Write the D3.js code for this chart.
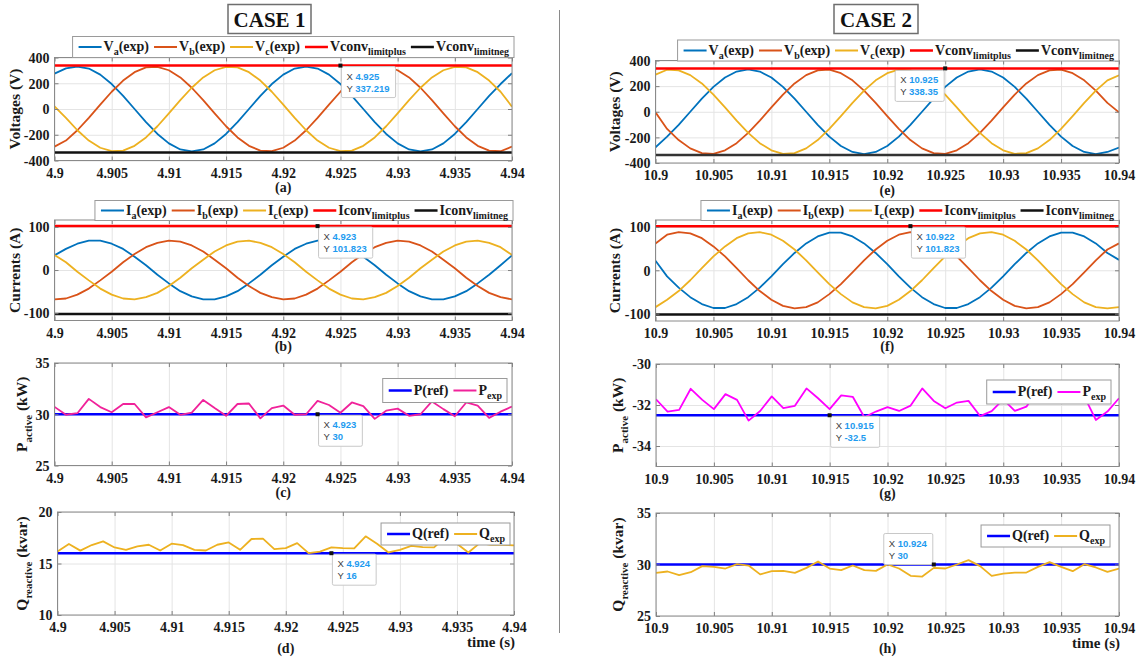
<!DOCTYPE html>
<html><head><meta charset="utf-8">
<script src="https://cdn.jsdelivr.net/npm/d3@7"></script>
<style>
body{margin:0;background:#fff}
svg{display:block}
svg text{font-family:"Liberation Serif","Times New Roman",Times,serif !important;font-weight:bold}
svg text.tip{font-family:"Liberation Sans",Arial,Helvetica,sans-serif !important;font-weight:normal}
</style>
</head><body>
<svg id="chart" width="1138" height="657"></svg>
<script>
// ---------------- DATA ----------------
const timeCase1 = [4.900,4.901,4.902,4.903,4.904,4.905,4.906,4.907,4.908,4.909,4.910,4.911,4.912,4.913,4.914,4.915,4.916,4.917,4.918,4.919,4.920,4.921,4.922,4.923,4.924,4.925,4.926,4.927,4.928,4.929,4.930,4.931,4.932,4.933,4.934,4.935,4.936,4.937,4.938,4.939,4.940];
const timeCase2 = [10.900,10.901,10.902,10.903,10.904,10.905,10.906,10.907,10.908,10.909,10.910,10.911,10.912,10.913,10.914,10.915,10.916,10.917,10.918,10.919,10.920,10.921,10.922,10.923,10.924,10.925,10.926,10.927,10.928,10.929,10.930,10.931,10.932,10.933,10.934,10.935,10.936,10.937,10.938,10.939,10.940];

const xTicks1 = [4.9,4.905,4.91,4.915,4.92,4.925,4.93,4.935,4.94];
const xTickLabels1 = ["4.9","4.905","4.91","4.915","4.92","4.925","4.93","4.935","4.94"];
const xTicks2 = [10.9,10.905,10.91,10.915,10.92,10.925,10.93,10.935,10.94];
const xTickLabels2 = ["10.9","10.905","10.91","10.915","10.92","10.925","10.93","10.935","10.94"];

const vTicks = [-400,-200,0,200,400];
const iTicks = [-100,0,100];
const p1Ticks = [25,30,35];
const p2Ticks = [-34,-32,-30];
const q1Ticks = [10,15,20];
const q2Ticks = [25,30,35];

// Case 1 voltages (V)
const va1 = [275,316,330,314,267,194,102,0,-102,-194,-267,-314,-330,-314,-267,-194,-102,0,102,194,267,314,330,314,267,194,102,0,-102,-194,-267,-314,-330,-314,-267,-194,-102,0,102,194,278];
const vb1 = [-292,-245,-165,-69,34,134,221,286,323,328,301,245,165,69,-34,-134,-221,-286,-323,-328,-301,-245,-165,-69,34,134,221,286,323,328,301,245,165,69,-34,-134,-221,-286,-323,-328,-292];
const vc1 = [20,-69,-165,-245,-301,-328,-323,-286,-221,-134,-34,69,165,245,301,328,323,286,221,134,34,-69,-165,-245,-301,-328,-323,-286,-221,-134,-34,69,165,245,301,328,323,286,221,134,18];
const vLimit1 = [337.219, -337.219];

// Case 2 voltages (V)
const va2 = [-278,-194,-102,0,102,194,267,314,330,314,267,194,102,0,-102,-194,-267,-314,-330,-314,-267,-194,-102,0,102,194,267,314,330,314,267,194,102,0,-102,-194,-267,-314,-330,-314,-280];
const vb2 = [-5,-134,-221,-286,-323,-328,-301,-245,-165,-69,34,134,221,286,323,328,301,245,165,69,-34,-134,-221,-286,-323,-328,-301,-245,-165,-69,34,134,221,286,323,328,301,245,165,69,-5];
const vc2 = [290,328,323,286,221,134,34,-69,-165,-245,-301,-328,-323,-286,-221,-134,-34,69,165,245,301,328,323,286,221,134,34,-69,-165,-245,-301,-328,-323,-286,-221,-134,-34,69,165,245,285];
const vLimit2 = [338.35, -338.35];

// Case 1 currents (A)
const ia1 = [34,49,61,68,68,61,49,31,11,-11,-31,-49,-61,-68,-68,-61,-49,-31,-11,11,31,49,61,68,68,61,49,31,11,-11,-31,-49,-61,-68,-68,-61,-49,-31,-11,11,34];
const ib1 = [-68,-66,-57,-43,-24,-4,18,37,53,63,68,66,57,43,24,4,-18,-37,-53,-63,-68,-66,-57,-43,-24,-4,18,37,53,63,68,66,57,43,24,4,-18,-37,-53,-63,-68];
const ic1 = [35,18,-4,-24,-43,-57,-66,-68,-63,-53,-37,-18,4,24,43,57,66,68,63,53,37,18,-4,-24,-43,-57,-66,-68,-63,-53,-37,-18,4,24,43,57,66,68,63,53,35];
const iLimit = [101.823, -101.823];

// Case 2 currents (A)
const ia2 = [22,-14,-40,-62,-78,-87,-87,-78,-62,-40,-14,14,40,62,78,87,87,78,62,40,14,-14,-40,-62,-78,-87,-87,-78,-62,-40,-14,14,40,62,78,87,87,78,62,40,24];
const ib2 = [62,82,88,85,74,55,32,5,-23,-48,-68,-82,-88,-85,-74,-55,-32,-5,23,48,68,82,88,85,74,55,32,5,-23,-48,-68,-82,-88,-85,-74,-55,-32,-5,23,48,62];
const ic2 = [-85,-68,-48,-23,5,32,55,74,85,88,82,68,48,23,-5,-32,-55,-74,-85,-88,-82,-68,-48,-23,5,32,55,74,85,88,82,68,48,23,-5,-32,-55,-74,-85,-88,-85];

// Active power (kW)
const pRef1 = 30;
const pExp1 = [30.72,29.95,30.1,31.5,30.7,30.2,31.0,31.0,29.7,30.2,30.7,29.95,30.15,31.4,30.6,29.85,31.0,31.05,29.6,30.6,30.85,29.95,30.0,31.3,30.9,30.15,31.15,30.8,29.55,30.35,30.55,29.85,30.0,31.25,30.5,29.8,31.15,30.85,29.65,30.25,30.75];
const pRef2 = -32.5;
const pExp2 = [-31.72,-32.32,-32.24,-31.21,-31.75,-32.2,-31.47,-31.75,-32.76,-32.29,-31.58,-32.15,-32.04,-31.19,-31.67,-32.2,-31.53,-31.6,-32.6,-32.32,-32.1,-32.29,-32.03,-31.19,-31.8,-32.16,-31.88,-31.8,-32.54,-32.3,-31.72,-32.29,-32.08,-31.29,-31.42,-31.9,-31.5,-31.58,-32.73,-32.32,-31.67];

// Reactive power (kvar)
const qRef1 = 16;
const qExp1 = [16.16,16.9,16.25,16.79,17.15,16.56,16.33,16.66,16.82,16.26,16.92,16.79,16.33,16.26,16.82,17.05,16.33,17.38,17.41,16.39,16.49,16.98,16.0,16.16,16.56,16.49,16.46,17.64,16.92,16.07,16.33,16.72,16.59,16.56,17.57,16.92,16.07,16.98,16.82,16.82,16.75];
const qRef2 = 30;
const qExp2 = [29.19,29.32,28.97,29.25,29.84,29.77,29.61,30.03,29.9,29.04,29.35,29.38,29.19,29.67,30.29,29.61,29.45,29.9,29.45,29.38,30.0,29.61,28.9,28.83,29.67,29.61,30.0,30.42,29.84,28.9,29.12,29.22,29.22,29.77,30.23,29.77,29.35,30.03,29.71,29.28,29.61];

// ---------------- STYLE ----------------
const C_A = '#0072BD', C_B = '#D95319', C_C = '#EDB120';
const C_RED = '#FF0000', C_BLK = '#111111', C_REF = '#0000FF';
const C_PINK1 = '#F0229A', C_MAG = '#FF00FF';
const TXT = '#1a1a1a';

const svg = d3.select('#chart');
let clipId = 0;

function drawPanel(o) {
  const x = d3.scaleLinear().domain(o.xDomain).range([o.left, o.right]);
  const y = d3.scaleLinear().domain(o.yDomain).range([o.bottom, o.top]);
  const g = svg.append('g');
  const w = o.right - o.left, h = o.bottom - o.top;

  g.append('rect').attr('x', o.left).attr('y', o.top).attr('width', w).attr('height', h).attr('fill', '#fff');

  // grid
  const gxg = g.append('g').attr('transform', `translate(0,${o.bottom})`)
    .call(d3.axisBottom(x).tickValues(o.xTicks).tickSize(-h).tickFormat(''));
  gxg.select('.domain').remove();
  gxg.selectAll('line').attr('stroke', '#e4e4e4').attr('stroke-width', 1);
  const gyg = g.append('g').attr('transform', `translate(${o.left},0)`)
    .call(d3.axisLeft(y).tickValues(o.yTicks).tickSize(-w).tickFormat(''));
  gyg.select('.domain').remove();
  gyg.selectAll('line').attr('stroke', '#e4e4e4').attr('stroke-width', 1);

  // clip
  const cid = 'clip' + (clipId++);
  g.append('clipPath').attr('id', cid).append('rect')
    .attr('x', o.left).attr('y', o.top).attr('width', w).attr('height', h);
  const plot = g.append('g').attr('clip-path', `url(#${cid})`);

  o.series.forEach(s => {
    const line = d3.line().x((d, i) => x(s.x[i])).y(d => y(d));
    plot.append('path').datum(s.y).attr('d', line)
      .attr('fill', 'none').attr('stroke', s.color).attr('stroke-width', s.width || 1.8)
      .attr('stroke-linejoin', 'round');
  });

  // axes (ticks inward)
  const ax = g.append('g').attr('transform', `translate(0,${o.bottom})`)
    .call(d3.axisBottom(x).tickValues(o.xTicks).tickSizeInner(-4).tickSizeOuter(0)
      .tickFormat((d, i) => o.xLabels[i]));
  ax.select('.domain').remove();
  ax.attr('font-family', null).attr('font-size', null);
  ax.selectAll('line').attr('stroke', '#7f7f7f');
  ax.selectAll('text').attr('y', 17).attr('dy', null)
    .style('font-size', '14px').attr('fill', TXT);

  const at = g.append('g').attr('transform', `translate(0,${o.top})`)
    .call(d3.axisTop(x).tickValues(o.xTicks).tickSizeInner(-4).tickSizeOuter(0).tickFormat(''));
  at.select('.domain').remove();
  at.selectAll('line').attr('stroke', '#7f7f7f');

  const ay = g.append('g').attr('transform', `translate(${o.left},0)`)
    .call(d3.axisLeft(y).tickValues(o.yTicks).tickSizeInner(-4).tickSizeOuter(0).tickPadding(5)
      .tickFormat(d => String(d)));
  ay.select('.domain').remove();
  ay.attr('font-family', null).attr('font-size', null);
  ay.selectAll('line').attr('stroke', '#7f7f7f');
  ay.selectAll('text').attr('x', -5).attr('dy', '0.34em')
    .style('font-size', '14px').attr('fill', TXT);

  const ar = g.append('g').attr('transform', `translate(${o.right},0)`)
    .call(d3.axisRight(y).tickValues(o.yTicks).tickSizeInner(-4).tickSizeOuter(0).tickFormat(''));
  ar.select('.domain').remove();
  ar.selectAll('line').attr('stroke', '#7f7f7f');

  g.append('rect').attr('x', o.left).attr('y', o.top).attr('width', w).attr('height', h)
    .attr('fill', 'none').attr('stroke', '#8a8a8a').attr('stroke-width', 1);

  // y label
  const yl = g.append('text')
    .attr('transform', `translate(${o.ylabelX},${(o.top + o.bottom) / 2}) rotate(-90)`)
    .attr('text-anchor', 'middle')
    .style('font-size', '15.5px').attr('fill', TXT);
  yl.append('tspan').text(o.ylabel[0]);
  if (o.ylabel[1]) {
    yl.append('tspan').attr('dy', 5).style('font-size', '11px').text(o.ylabel[1]);
    yl.append('tspan').attr('dy', -5).text(o.ylabel[2]);
  }

  // panel letter
  g.append('text').attr('x', (o.left + o.right) / 2).attr('y', o.letterY).attr('text-anchor', 'middle')
    .style('font-size', '14px').attr('fill', TXT)
    .text(o.letter);

  if (o.timeLabel) {
    g.append('text').attr('x', o.right + 1).attr('y', o.bottom + 32).attr('text-anchor', 'end')
      .style('font-size', '15px').attr('fill', TXT)
      .text('time (s)');
  }

  if (o.legend) drawLegend(g, o.legend);
  if (o.tip) drawTip(g, x(o.tip.x), y(o.tip.y), o.tip.xs, o.tip.ys, o.tip.place);
}

function drawLegend(g, L) {
  const lg = g.append('g');
  const box = lg.append('rect').attr('fill', '#fff').attr('stroke', '#9a9a9a').attr('stroke-width', 1);
  const pad = 6, lineLen = 23, gap = 2, itemGap = 5;
  let cx = 0;
  const cy = L.h / 2;
  L.items.forEach((it, i) => {
    const ig = lg.append('g');
    ig.append('line').attr('x1', cx + pad).attr('x2', cx + pad + lineLen).attr('y1', cy).attr('y2', cy)
      .attr('stroke', it.color).attr('stroke-width', it.width || 2);
    const t = ig.append('text').attr('x', cx + pad + lineLen + gap).attr('y', cy + 4)
      .style('font-size', '14px').attr('fill', TXT);
    t.append('tspan').text(it.text);
    if (it.sub) {
      t.append('tspan').attr('dy', 4).style('font-size', '10px').text(it.sub);
      if (it.after) t.append('tspan').attr('dy', -4).text(it.after);
    }
    const tw = t.node().getComputedTextLength();
    cx += lineLen + gap + tw + (i < L.items.length - 1 ? itemGap : 0);
  });
  const total = pad + cx + 5;
  const left = L.right - total;
  lg.attr('transform', `translate(${left},${L.top})`);
  box.attr('x', 0).attr('y', 0).attr('width', total).attr('height', L.h);
}

function drawTip(g, px, py, xs, ys, place) {
  const tg = g.append('g');
  const rect = tg.append('rect').attr('fill', '#fff').attr('stroke', '#c8c8c8').attr('stroke-width', 1).attr('rx', 1.5);
  const mk = (yy, lab, val) => {
    const t = tg.append('text').attr('class', 'tip').attr('y', yy).style('font-size', '9.5px');
    t.append('tspan').attr('fill', '#404040').text(lab + ' ');
    t.append('tspan').attr('fill', '#1E9BF0').style('font-weight', 'bold').text(val);
    return t;
  };
  const t1 = mk(13, 'X', xs), t2 = mk(25, 'Y', ys);
  const tw = Math.max(t1.node().getComputedTextLength(), t2.node().getComputedTextLength());
  const bw = tw + 11, bh = 31;
  t1.attr('x', 5); t2.attr('x', 5);
  rect.attr('x', 0).attr('y', 0).attr('width', bw).attr('height', bh);
  let ox = px + 1, oy = py + 1;
  if (place === 'bl') { ox = px - bw - 1; oy = py + 2; }
  if (place === 'tl') { ox = px - bw - 1; oy = py - bh; }
  tg.attr('transform', `translate(${ox},${oy})`);
  g.append('rect').attr('x', px - 2).attr('y', py - 2).attr('width', 4).attr('height', 4).attr('fill', '#111');
}

// ---------------- LAYOUT ----------------
const L1 = 54.5, R1 = 512, L2 = 655.5, R2 = 1119;

const vLegend = (pre, sym) => [
  {text: sym, sub: 'a', after: '(exp)', color: C_A},
  {text: sym, sub: 'b', after: '(exp)', color: C_B},
  {text: sym, sub: 'c', after: '(exp)', color: C_C},
  {text: pre + 'conv', sub: 'limitplus', after: '', color: C_RED, width: 2.5},
  {text: pre + 'conv', sub: 'limitneg', after: '', color: C_BLK, width: 2.5}
];

const cons = (arr, v) => arr.map(() => v);

// (a)
drawPanel({
  left: L1, right: R1, top: 57.5, bottom: 160.5, xDomain: [4.9, 4.94], yDomain: [-400, 400],
  xTicks: xTicks1, xLabels: xTickLabels1, yTicks: vTicks,
  series: [
    {x: timeCase1, y: va1, color: C_A}, {x: timeCase1, y: vb1, color: C_B}, {x: timeCase1, y: vc1, color: C_C},
    {x: timeCase1, y: cons(timeCase1, vLimit1[0]), color: C_RED, width: 2.5},
    {x: timeCase1, y: cons(timeCase1, vLimit1[1]), color: C_BLK, width: 2.5}
  ],
  ylabel: ['Voltages (V)'], ylabelX: 19.5, letter: '(a)', letterY: 192,
  legend: {right: 514, top: 36.5, h: 21, items: vLegend('V', 'V')},
  tip: {x: 4.925, y: vLimit1[0], xs: '4.925', ys: '337.219', place: 'br'}
});
// (b)
drawPanel({
  left: L1, right: R1, top: 220, bottom: 320.5, xDomain: [4.9, 4.94], yDomain: [-117, 116],
  xTicks: xTicks1, xLabels: xTickLabels1, yTicks: iTicks,
  series: [
    {x: timeCase1, y: ia1, color: C_A}, {x: timeCase1, y: ib1, color: C_B}, {x: timeCase1, y: ic1, color: C_C},
    {x: timeCase1, y: cons(timeCase1, iLimit[0]), color: C_RED, width: 2.5},
    {x: timeCase1, y: cons(timeCase1, iLimit[1]), color: C_BLK, width: 2.5}
  ],
  ylabel: ['Currents (A)'], ylabelX: 20, letter: '(b)', letterY: 351,
  legend: {right: 513, top: 200.5, h: 20, items: vLegend('I', 'I')},
  tip: {x: 4.923, y: iLimit[0], xs: '4.923', ys: '101.823', place: 'br'}
});
// (c)
drawPanel({
  left: L1, right: R1, top: 363, bottom: 465.5, xDomain: [4.9, 4.94], yDomain: [25, 35],
  xTicks: xTicks1, xLabels: xTickLabels1, yTicks: p1Ticks,
  series: [
    {x: timeCase1, y: cons(timeCase1, pRef1), color: C_REF, width: 2.5},
    {x: timeCase1, y: pExp1, color: C_PINK1, width: 1.8}
  ],
  ylabel: ['P', 'active', ' (kW)'], ylabelX: 26.5, letter: '(c)', letterY: 497,
  legend: {right: 507, top: 378.5, h: 24, items: [
    {text: 'P(ref)', color: C_REF, width: 2.5}, {text: 'P', sub: 'exp', after: '', color: C_PINK1}]},
  tip: {x: 4.923, y: pRef1, xs: '4.923', ys: '30', place: 'br'}
});
// (d)
drawPanel({
  left: 57.5, right: 514, top: 512, bottom: 615, xDomain: [4.9, 4.94], yDomain: [10, 20],
  xTicks: xTicks1, xLabels: xTickLabels1, yTicks: q1Ticks,
  series: [
    {x: timeCase1, y: cons(timeCase1, qRef1), color: C_REF, width: 2.5},
    {x: timeCase1, y: qExp1, color: C_C, width: 1.8}
  ],
  ylabel: ['Q', 'reactive', ' (kvar)'], ylabelX: 26.5, letter: '(d)', letterY: 653, timeLabel: true,
  legend: {right: 510, top: 523, h: 22, items: [
    {text: 'Q(ref)', color: C_REF, width: 2.5}, {text: 'Q', sub: 'exp', after: '', color: C_C}]},
  tip: {x: 4.924, y: qRef1, xs: '4.924', ys: '16', place: 'br'}
});
// (e)
drawPanel({
  left: L2, right: R2, top: 60.5, bottom: 163, xDomain: [10.9, 10.94], yDomain: [-400, 400],
  xTicks: xTicks2, xLabels: xTickLabels2, yTicks: vTicks,
  series: [
    {x: timeCase2, y: va2, color: C_A}, {x: timeCase2, y: vb2, color: C_B}, {x: timeCase2, y: vc2, color: C_C},
    {x: timeCase2, y: cons(timeCase2, vLimit2[0]), color: C_RED, width: 2.5},
    {x: timeCase2, y: cons(timeCase2, vLimit2[1]), color: '#333333', width: 2.5}
  ],
  ylabel: ['Voltages (V)'], ylabelX: 620, letter: '(e)', letterY: 195,
  legend: {right: 1119, top: 40, h: 21, items: vLegend('V', 'V')},
  tip: {x: 10.925, y: vLimit2[0], xs: '10.925', ys: '338.35', place: 'bl'}
});
// (f)
drawPanel({
  left: L2, right: R2, top: 220, bottom: 321, xDomain: [10.9, 10.94], yDomain: [-117, 116],
  xTicks: xTicks2, xLabels: xTickLabels2, yTicks: iTicks,
  series: [
    {x: timeCase2, y: ia2, color: C_A}, {x: timeCase2, y: ib2, color: C_B}, {x: timeCase2, y: ic2, color: C_C},
    {x: timeCase2, y: cons(timeCase2, iLimit[0]), color: C_RED, width: 2.5},
    {x: timeCase2, y: cons(timeCase2, iLimit[1]), color: C_BLK, width: 2.5}
  ],
  ylabel: ['Currents (A)'], ylabelX: 620, letter: '(f)', letterY: 351,
  legend: {right: 1119, top: 200.5, h: 20, items: vLegend('I', 'I')},
  tip: {x: 10.922, y: iLimit[0], xs: '10.922', ys: '101.823', place: 'br'}
});
// (g)
drawPanel({
  left: 656, right: R2, top: 364, bottom: 466.5, xDomain: [10.9, 10.94], yDomain: [-35, -30],
  xTicks: xTicks2, xLabels: xTickLabels2, yTicks: p2Ticks,
  series: [
    {x: timeCase2, y: cons(timeCase2, pRef2), color: C_REF, width: 2.5},
    {x: timeCase2, y: pExp2, color: C_MAG, width: 1.8}
  ],
  ylabel: ['P', 'active', ' (kW)'], ylabelX: 623, letter: '(g)', letterY: 498,
  legend: {right: 1111, top: 380, h: 24, items: [
    {text: 'P(ref)', color: C_REF, width: 2.5}, {text: 'P', sub: 'exp', after: '', color: C_MAG}]},
  tip: {x: 10.915, y: pRef2, xs: '10.915', ys: '-32.5', place: 'br'}
});
// (h)
drawPanel({
  left: 656, right: R2, top: 513, bottom: 616, xDomain: [10.9, 10.94], yDomain: [25, 35],
  xTicks: xTicks2, xLabels: xTickLabels2, yTicks: q2Ticks,
  series: [
    {x: timeCase2, y: cons(timeCase2, qRef2), color: C_REF, width: 2.5},
    {x: timeCase2, y: qExp2, color: C_C, width: 1.8}
  ],
  ylabel: ['Q', 'reactive', ' (kvar)'], ylabelX: 623, letter: '(h)', letterY: 653, timeLabel: true,
  legend: {right: 1110, top: 525, h: 22, items: [
    {text: 'Q(ref)', color: C_REF, width: 2.5}, {text: 'Q', sub: 'exp', after: '', color: C_C}]},
  tip: {x: 10.924, y: qRef2, xs: '10.924', ys: '30', place: 'tl'}
});

// titles
function title(cx, txt, x0, x1) {
  svg.append('rect').attr('x', x0).attr('y', 4.5).attr('width', x1 - x0).attr('height', 29)
    .attr('fill', '#fff').attr('stroke', '#6e6e6e').attr('stroke-width', 1.5);
  svg.append('text').attr('x', cx).attr('y', 27).attr('text-anchor', 'middle')
    .style('font-size', '21px').attr('fill', '#111')
    .text(txt);
}
title(269.5, 'CASE 1', 228, 311);
title(876, 'CASE 2', 834, 918);

// divider
svg.append('line').attr('x1', 559.5).attr('x2', 559.5).attr('y1', 10).attr('y2', 633)
  .attr('stroke', '#8a8a8a').attr('stroke-width', 1);
</script>
</body></html>
